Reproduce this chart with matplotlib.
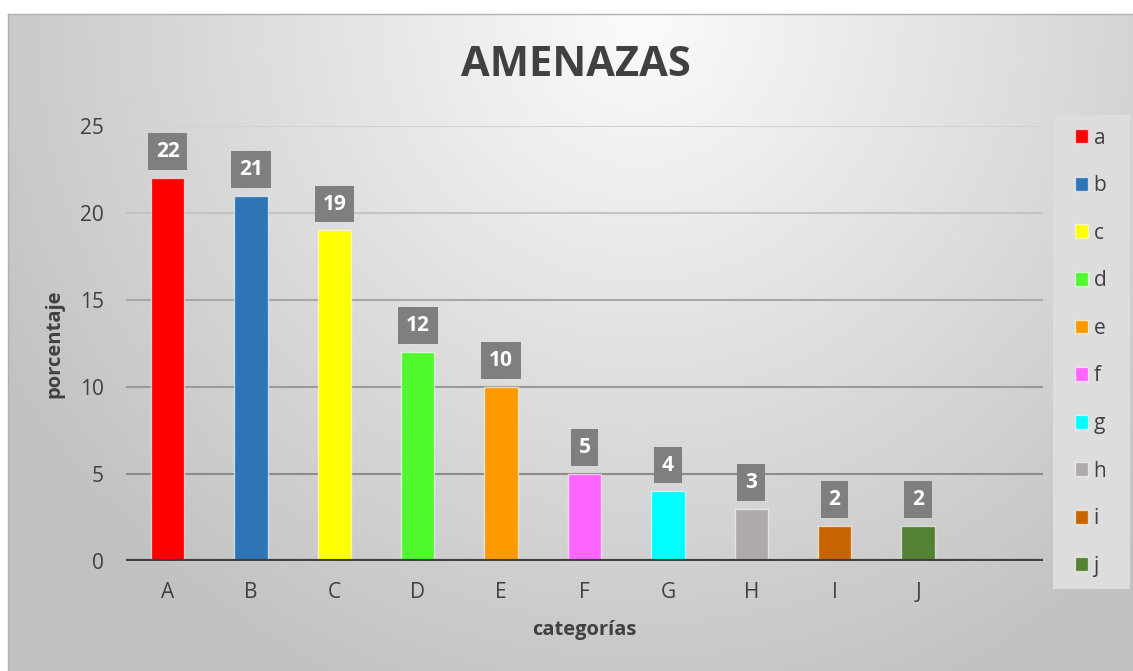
import numpy as np
import matplotlib
matplotlib.use("Agg")
import matplotlib.pyplot as plt
from matplotlib.patches import Patch, Rectangle
from matplotlib.legend_handler import HandlerPatch

plt.rcParams['font.family'] = ['Open Sans', 'DejaVu Sans']

categories = ["A", "B", "C", "D", "E", "F", "G", "H", "I", "J"]
series_names = ["a", "b", "c", "d", "e", "f", "g", "h", "i", "j"]
values = [22, 21, 19, 12, 10, 5, 4, 3, 2, 2]
colors = ["#FF0000", "#2E75B6", "#FFFF00", "#50F82E", "#FF9900",
          "#FF66FF", "#00FFFF", "#AEAAAA", "#C86400", "#548235"]
yticks = [0, 5, 10, 15, 20, 25]
n_slots = 11

W, H = 1133, 671
fig = plt.figure(figsize=(W / 100, H / 100), dpi=100)

# background gradient
bg = fig.add_axes([0, 0, 1, 1])
yy, xx = np.mgrid[0:H, 0:W]
d = np.sqrt(((xx - 640) / 1.0) ** 2 + ((yy - 20) * 1.0) ** 2)
g = 0.985 - 0.20 * np.clip(d / 650, 0, 1.3)
g = np.clip(g, 0.76, 1.0)
img = np.dstack([g, g, g])
img[:14, :, :] = 1.0
img[:, :8, :] = 1.0
bg.imshow(img, extent=[0, W, H, 0], aspect='auto', interpolation='bilinear')
bg.plot([8, W], [14, 14], color="#b0b0b0", lw=1)
bg.plot([8, 8], [14, H], color="#b0b0b0", lw=1)
bg.set_xlim(0, W)
bg.set_ylim(H, 0)
bg.axis('off')

left, right = 126 / W, 1043 / W
bottom, top = 1 - 561 / H, 1 - 126 / H
ax = fig.add_axes([left, bottom, right - left, top - bottom])
ax.set_facecolor('none')
ax.set_xlim(-0.5, n_slots - 0.5)
ax.set_ylim(0, 25)

grid_cols = {5: "#8c8c8c", 10: "#9a9a9a", 15: "#a8a8a8", 20: "#c4c4c4", 25: "#d2d2d2"}
for yv in yticks[1:]:
    ax.axhline(yv, color=grid_cols[yv], lw=1.5, zorder=0)

x = np.arange(len(categories))
bars = ax.bar(x, values, width=0.4, color=colors,
              edgecolor=(1, 1, 1, 0.6), linewidth=1.0, zorder=2)
ax.axhline(0, color="#404040", lw=3, zorder=3)

for xi, v in zip(x, values):
    ax.annotate(str(v), (xi, v), xytext=(0, 19), textcoords='offset points',
                ha='center', va='center', fontsize=15, fontweight='bold',
                color='white', zorder=4,
                bbox=dict(boxstyle='square,pad=0.38', fc='#7f7f7f', ec='none'))

ax.set_xticks(x)
ax.set_xticklabels(categories)
ax.set_yticks(yticks)
ax.tick_params(axis='both', length=0, labelsize=15, labelcolor='#404040')
ax.tick_params(axis='x', pad=15)
ax.tick_params(axis='y', pad=16)
for s in ax.spines.values():
    s.set_visible(False)

ax.set_xlabel("categorías", fontsize=14.5, fontweight='bold', color='#404040', labelpad=12)
ax.set_ylabel("porcentaje", fontsize=14.5, fontweight='bold', color='#404040', labelpad=11)

fig.text(576 / W, 1 - 65 / H, "AMENAZAS", ha='center', va='center',
         fontsize=30, fontweight='bold', color='#404040')


def square_patch(legend, orig_handle, xdescent, ydescent, width, height, fontsize):
    s = 10.0  # points
    return Rectangle((-xdescent + width - s, -ydescent + (height - s) / 2), s, s)


handles = [Patch(facecolor=c, edgecolor=(1, 1, 1, 0.6), linewidth=1) for c in colors]
leg_top = 1 - 115 / H
leg = fig.legend(handles, series_names, loc='upper left',
                 bbox_to_anchor=(1053 / W, leg_top - 0.01, 77 / W, 0.01), mode='expand',
                 fontsize=15, labelcolor='#404040', frameon=True,
                 fancybox=False, facecolor='#dddddd', edgecolor='none', framealpha=1,
                 handlelength=1.1, handleheight=0.6, handletextpad=0.25,
                 labelspacing=1.276, borderpad=0.6, borderaxespad=0,
                 handler_map={Patch: HandlerPatch(patch_func=square_patch)})

fig.savefig("out.png", dpi=100)
